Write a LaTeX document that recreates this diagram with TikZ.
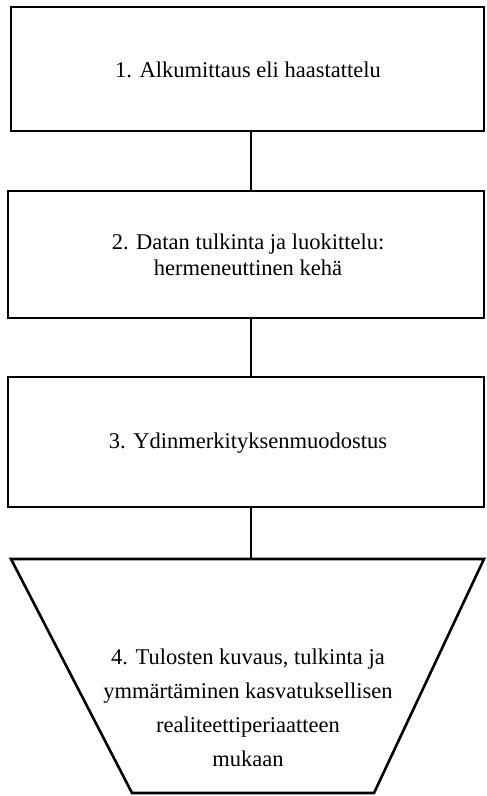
\documentclass[tikz,border=0pt]{standalone}
\usepackage{fontspec}
\setmainfont{Liberation Serif}
\begin{document}
\begin{tikzpicture}[x=1pt,y=-1pt,
  frame/.style={draw=black,line width=2.6pt},
  link/.style={draw=black,line width=2.6pt},
  label/.style={align=center,font=\fontsize{22.5}{26}\selectfont,inner sep=0pt},
  widelabel/.style={label,font=\fontsize{22.5}{34}\selectfont}]
\useasboundingbox (0,0) rectangle (487,796);
% process boxes
\draw[frame] (11,7) rectangle (484,131);
\draw[frame] (8,191) rectangle (484,318);
\draw[frame] (8,377) rectangle (484,507);
% final stage as an inverted trapezoid
\draw[frame,line join=miter] (11,559) -- (484,559) -- (374,793) -- (132,793) -- cycle;
\node[label] (s1) at (248,70) {1. Alkumittaus eli haastattelu};
\node[label] (s2) at (248,255) {2. Datan tulkinta ja luokittelu:\\hermeneuttinen kehä};
\node[label] (s3) at (248,443) {3. Ydinmerkityksenmuodostus};
\node[widelabel] (s4) at (248,708) {4. Tulosten kuvaus, tulkinta ja\\ymmärtäminen kasvatuksellisen\\realiteettiperiaatteen\\mukaan};
% joints between the stages
\coordinate (b1) at (251,131);
\coordinate (t2) at (251,191);
\coordinate (b2) at (251,318);
\coordinate (t3) at (251,377);
\coordinate (b3) at (251,507);
\coordinate (t4) at (251,559);
\draw[link] (b1) -- (t2);
\draw[link] (b2) -- (t3);
\draw[link] (b3) -- (t4);
\end{tikzpicture}
\end{document}
